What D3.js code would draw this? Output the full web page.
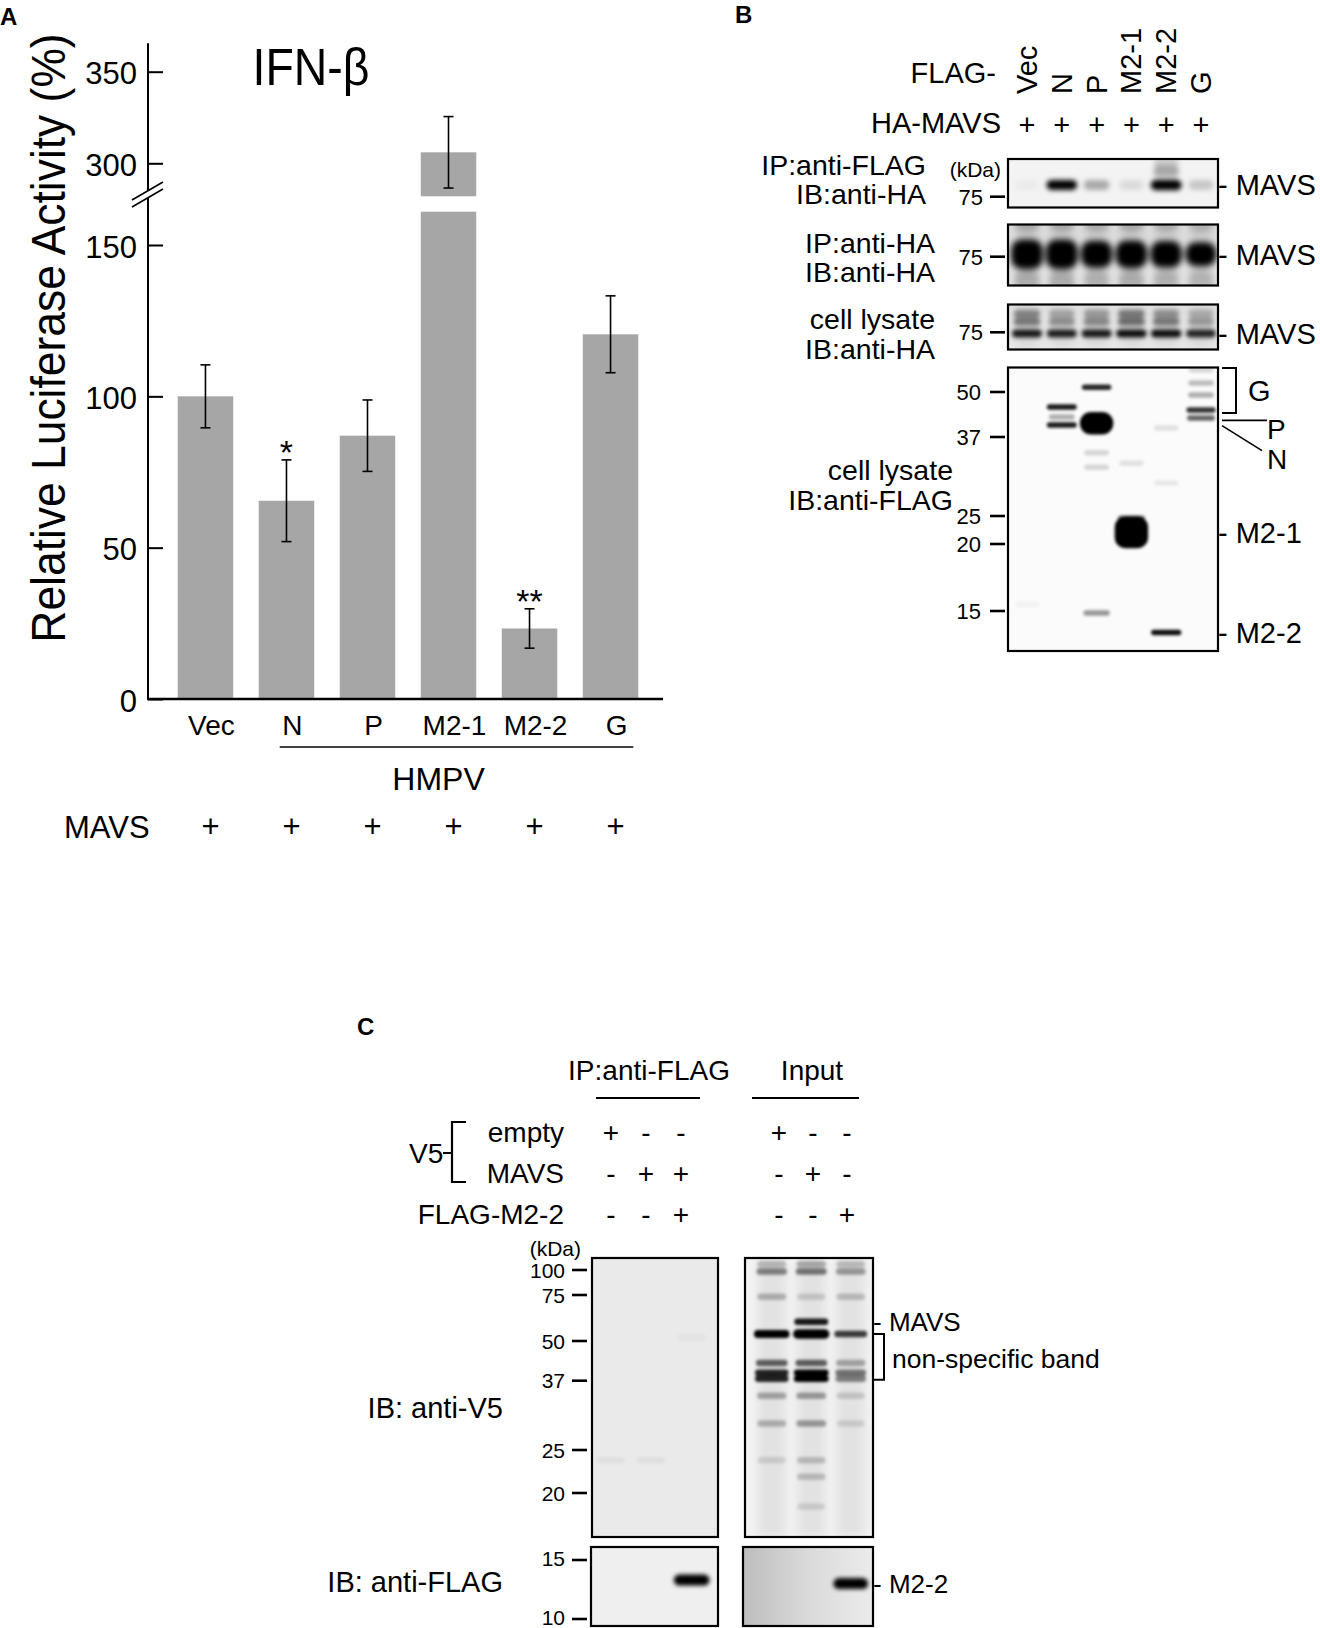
<!DOCTYPE html>
<html><head><meta charset="utf-8">
<script src="https://cdn.jsdelivr.net/npm/d3@7"></script>
<style>
body{margin:0;background:#fff}
svg text{font-family:"Liberation Sans",Arial,Helvetica,sans-serif;fill:#000}
</style>
</head><body>
<svg id="fig" width="1320" height="1628"></svg>
<script>
// ================= DATA =================
// Panel A : IFN-beta luciferase
const catsA = ["Vec", "N", "P", "M2-1", "M2-2", "G"];
const meanA = [100, 65.5, 87, 306, 23.3, 120.5];
const errA  = [10.4, 13.5, 11.8, 19.5, 6.5, 12.7];
const sigA  = ["", "*", "", "", "**", ""];
const mavsA = ["+", "+", "+", "+", "+", "+"];
const ticksLowA  = [0, 50, 100, 150];
const ticksHighA = [300, 350];

// Panel B : co-IP of HA-MAVS with FLAG-tagged HMPV proteins
const lanesB = ["Vec", "N", "P", "M2-1", "M2-2", "G"];
const haMavsB = ["+", "+", "+", "+", "+", "+"];
const markersB123 = [75];
const markersB4 = [50, 37, 25, 20, 15];
const bandsB1 = [
  {lane:"Vec", kDa:80, s:0.03}, {lane:"N", kDa:80, s:1.0}, {lane:"P", kDa:80, s:0.3},
  {lane:"M2-1", kDa:80, s:0.1}, {lane:"M2-2", kDa:80, s:1.05},
  {lane:"M2-2", kDa:86, s:0.3}, {lane:"M2-2", kDa:90, s:0.18},
  {lane:"G", kDa:80, s:0.18}
];
const bandsB2 = [
  {lane:"Vec", kDa:92, s:0.22}, {lane:"N", kDa:92, s:0.22}, {lane:"P", kDa:92, s:0.2},
  {lane:"M2-1", kDa:92, s:0.22}, {lane:"M2-2", kDa:92, s:0.2}, {lane:"G", kDa:92, s:0.18},
  {lane:"Vec", kDa:65, s:0.2}, {lane:"N", kDa:65, s:0.2}, {lane:"P", kDa:65, s:0.18},
  {lane:"M2-1", kDa:65, s:0.2}, {lane:"M2-2", kDa:65, s:0.18}, {lane:"G", kDa:65, s:0.16},
  {lane:"Vec", kDa:76, s:1.15}, {lane:"N", kDa:76, s:1.15}, {lane:"P", kDa:76, s:1.08},
  {lane:"M2-1", kDa:76, s:1.1}, {lane:"M2-2", kDa:76, s:1.07}, {lane:"G", kDa:76, s:1.0}
];
const bandsB3 = [
  {lane:"Vec", kDa:79.5, s:0.45}, {lane:"N", kDa:79.5, s:0.35}, {lane:"P", kDa:79.5, s:0.38},
  {lane:"M2-1", kDa:79.5, s:0.5}, {lane:"M2-2", kDa:79.5, s:0.45}, {lane:"G", kDa:79.5, s:0.3},
  {lane:"Vec", kDa:83, s:0.4}, {lane:"N", kDa:83, s:0.25}, {lane:"P", kDa:83, s:0.3},
  {lane:"M2-1", kDa:83, s:0.45}, {lane:"M2-2", kDa:83, s:0.35}, {lane:"G", kDa:83, s:0.22},
  {lane:"Vec", kDa:74.5, s:0.9}, {lane:"N", kDa:74.5, s:0.88}, {lane:"P", kDa:74.5, s:0.9},
  {lane:"M2-1", kDa:74.5, s:0.95}, {lane:"M2-2", kDa:74.5, s:0.95}, {lane:"G", kDa:74.5, s:0.85}
];
const bandsB4 = [
  {lane:"N", kDa:45.7, s:0.9}, {lane:"N", kDa:42.8, s:0.3}, {lane:"N", kDa:40.5, s:0.9},
  {lane:"P", kDa:51.4, s:0.85}, {lane:"P", kDa:41, s:1.6}, {lane:"P", kDa:34.6, s:0.15},
  {lane:"P", kDa:32.4, s:0.15}, {lane:"P", kDa:14.85, s:0.4},
  {lane:"M2-1", kDa:33, s:0.1}, {lane:"M2-1", kDa:24.6, s:0.5}, {lane:"M2-1", kDa:22.1, s:1.8},
  {lane:"M2-2", kDa:39.6, s:0.1}, {lane:"M2-2", kDa:30, s:0.08}, {lane:"M2-2", kDa:13.4, s:0.95},
  {lane:"G", kDa:56.4, s:0.15}, {lane:"G", kDa:52.6, s:0.25}, {lane:"G", kDa:49.1, s:0.3},
  {lane:"G", kDa:44.8, s:0.8}, {lane:"G", kDa:42.5, s:0.6},
  {lane:"Vec", kDa:15.5, s:0.04}
];

// Panel C : V5-MAVS / FLAG-M2-2 co-IP
const lanesC = ["1", "2", "3"];
const rowsC = ["empty", "MAVS", "FLAG-M2-2"];
const signsIP    = [["+","-","-"], ["-","+","+"], ["-","-","+"]];
const signsInput = [["+","-","-"], ["-","+","-"], ["-","-","+"]];
const markersCV5 = [100, 75, 50, 37, 25, 20];
const markersCF  = [15, 10];
const bandsCV5ip = [
  {lane:"1", kDa:23.8, s:0.05}, {lane:"2", kDa:23.8, s:0.05}, {lane:"3", kDa:52, s:0.03}
];
const bandsCV5in = [
  {lane:"1", kDa:105.8, s:0.22}, {lane:"1", kDa:98.4, s:0.45}, {lane:"1", kDa:74.1, s:0.25},
  {lane:"1", kDa:53.8, s:1.1}, {lane:"1", kDa:42.8, s:0.6}, {lane:"1", kDa:39.6, s:0.85},
  {lane:"1", kDa:37.6, s:0.85}, {lane:"1", kDa:34.4, s:0.3}, {lane:"1", kDa:29.6, s:0.25},
  {lane:"1", kDa:23.8, s:0.12},
  {lane:"2", kDa:105.8, s:0.28}, {lane:"2", kDa:98.4, s:0.5}, {lane:"2", kDa:74.1, s:0.15},
  {lane:"2", kDa:60.5, s:0.9}, {lane:"2", kDa:53.8, s:1.2}, {lane:"2", kDa:42.8, s:0.6},
  {lane:"2", kDa:39.6, s:1.0}, {lane:"2", kDa:37.6, s:1.0}, {lane:"2", kDa:34.4, s:0.35},
  {lane:"2", kDa:29.6, s:0.35}, {lane:"2", kDa:23.8, s:0.2}, {lane:"2", kDa:21.9, s:0.2},
  {lane:"2", kDa:19, s:0.12},
  {lane:"3", kDa:105.8, s:0.2}, {lane:"3", kDa:98.4, s:0.35}, {lane:"3", kDa:74.1, s:0.2},
  {lane:"3", kDa:53.8, s:0.75}, {lane:"3", kDa:42.8, s:0.3}, {lane:"3", kDa:39.6, s:0.5},
  {lane:"3", kDa:37.6, s:0.45}, {lane:"3", kDa:34.4, s:0.15}, {lane:"3", kDa:29.6, s:0.12}
];
const bandsCFip = [{lane:"3", kDa:13.3, s:1.0}];
const bandsCFin = [{lane:"3", kDa:13.0, s:1.0}];

// ================= DRAWING =================
const svg = d3.select("#fig");
const defs = svg.append("defs");

function txt(g, x, y, s, size, anchor, weight) {
  return g.append("text").attr("x", x).attr("y", y).attr("font-size", size)
    .attr("text-anchor", anchor || "start").attr("font-weight", weight || "normal").text(s);
}
function line(g, x1, y1, x2, y2, w) {
  return g.append("line").attr("x1", x1).attr("y1", y1).attr("x2", x2).attr("y2", y2)
    .attr("stroke", "#000").attr("stroke-width", w || 2);
}

// ---------- Panel A ----------
const gA = svg.append("g");
txt(gA, 0, 25, "A", 24, "start", "bold");
const axX = 148;
const xA = d3.scaleBand().domain(catsA).range([150, 666]).paddingInner(0.315).paddingOuter(0.342);
const yLow = d3.scaleLinear().domain([0, 150]).range([699, 245]);
const yHigh = d3.scaleLinear().domain([300, 350]).range([163.3, 71.7]);
const lowMax = 161, highMin = 282;          // visible limits of the bar segments
const lowAxisTop = 165.5, highAxisBottom = 285, highAxisTop = 365.5;

catsA.forEach((c, i) => {
  const v = meanA[i], e = errA[i], x = xA(c), w = xA.bandwidth();
  if (v <= lowMax) {
    gA.append("rect").attr("x", x).attr("y", yLow(v)).attr("width", w)
      .attr("height", yLow(0) - yLow(v)).attr("fill", "#a6a6a6");
  } else {
    gA.append("rect").attr("x", x).attr("y", yLow(lowMax)).attr("width", w)
      .attr("height", yLow(0) - yLow(lowMax)).attr("fill", "#a6a6a6");
    gA.append("rect").attr("x", x).attr("y", yHigh(v)).attr("width", w)
      .attr("height", yHigh(highMin) - yHigh(v)).attr("fill", "#a6a6a6");
  }
  const ys = v <= lowMax ? yLow : yHigh;
  const cx = x + w / 2;
  line(gA, cx, ys(v - e), cx, ys(v + e), 1.6);
  line(gA, cx - 5, ys(v - e), cx + 5, ys(v - e), 1.6);
  line(gA, cx - 5, ys(v + e), cx + 5, ys(v + e), 1.6);
  if (sigA[i]) txt(gA, cx, ys(v + e) + 4, sigA[i], 34, "middle");
});

function styleAxis(g) {
  g.select(".domain").remove();
  g.selectAll(".tick line").attr("stroke-width", 2);
  g.selectAll(".tick text").attr("font-size", 31).attr("dy", "0.39em")
    .style("font-family", '"Liberation Sans", Arial, sans-serif');
}
gA.append("g").attr("transform", `translate(${axX},0)`)
  .call(d3.axisLeft(yLow).tickValues(ticksLowA).tickSizeInner(-15).tickSizeOuter(0).tickPadding(11))
  .call(styleAxis);
gA.append("g").attr("transform", `translate(${axX},0)`)
  .call(d3.axisLeft(yHigh).tickValues(ticksHighA).tickSizeInner(-15).tickSizeOuter(0).tickPadding(11))
  .call(styleAxis);
line(gA, axX, yLow(0) + 1, axX, yLow(lowAxisTop), 2);
line(gA, axX, yHigh(highAxisBottom), axX, yHigh(highAxisTop), 2);
const brkMid = (yLow(lowAxisTop) + yHigh(highAxisBottom)) / 2;
[-3.5, 3.5].forEach(d => line(gA, axX - 16, brkMid + 9 + d, axX + 15, brkMid - 9 + d, 1.6));
line(gA, axX - 1, yLow(0), 663, yLow(0), 2.6);

gA.append("text").attr("transform", `translate(65,338) rotate(-90) scale(0.925,1)`)
  .attr("font-size", 48).attr("text-anchor", "middle").text("Relative Luciferase Activity (%)");
gA.append("text").attr("transform", `translate(311,85) scale(0.91,1)`)
  .attr("font-size", 51).attr("text-anchor", "middle").text("IFN-β");

catsA.forEach(c => txt(gA, xA(c) + xA.bandwidth() / 2 + 6, 735, c, 28, "middle"));
const hx1 = xA("N") + 21, hx2 = xA("G") + xA.bandwidth() - 5;
line(gA, hx1, 747, hx2, 747, 1.6);
txt(gA, (hx1 + hx2) / 2 - 18, 790, "HMPV", 32, "middle");
txt(gA, 64, 838, "MAVS", 31, "start");
catsA.forEach((c, i) => txt(gA, xA(c) + xA.bandwidth() / 2 + 5, 837, mavsA[i], 31, "middle"));

// ---------- blot helper ----------
let blotId = 0;
function drawBlot(g, box, bands, lane, y, o) {
  const id = "b" + (blotId++);
  defs.append("clipPath").attr("id", "c" + id).append("rect")
    .attr("x", box[0]).attr("y", box[1]).attr("width", box[2] - box[0]).attr("height", box[3] - box[1]);
  const f = defs.append("filter").attr("id", "f" + id).attr("filterUnits", "userSpaceOnUse")
    .attr("x", 0).attr("y", 0).attr("width", 1320).attr("height", 1628);
  f.append("feGaussianBlur").attr("stdDeviation", o.blur);
  let bg = o.bg;
  if (Array.isArray(o.bg)) {
    const gr = defs.append("linearGradient").attr("id", "g" + id)
      .attr("x1", 0).attr("y1", 0).attr("x2", o.horiz ? 1 : 0).attr("y2", o.horiz ? 0 : 1);
    o.bg.forEach((c, k) => gr.append("stop").attr("offset", k / (o.bg.length - 1)).attr("stop-color", c));
    bg = `url(#g${id})`;
  }
  const outer = g.append("g").attr("clip-path", `url(#c${id})`);
  outer.append("rect").attr("x", box[0]).attr("y", box[1]).attr("width", box[2] - box[0])
    .attr("height", box[3] - box[1]).attr("fill", bg);
  const bw = lane.bandwidth();
  if (o.smear) {   // faint vertical lane smear
    const fs = defs.append("filter").attr("id", "s" + id).attr("filterUnits", "userSpaceOnUse")
      .attr("x", 0).attr("y", 0).attr("width", 1320).attr("height", 1628);
    fs.append("feGaussianBlur").attr("stdDeviation", 5);
    const sg = outer.append("g").attr("filter", `url(#s${id})`);
    lane.domain().forEach(l => sg.append("rect").attr("x", lane(l) + 2).attr("y", box[1])
      .attr("width", bw - 4).attr("height", box[3] - box[1]).attr("fill", "#000").attr("fill-opacity", o.smear));
  }
  const inner = outer.append("g").attr("filter", `url(#f${id})`);
  bands.forEach(b => {
    const w = bw * Math.min(1.2, 0.85 + 0.25 * b.s);
    const h = o.base * Math.pow(Math.max(1, b.s), o.grow);
    inner.append("rect").attr("x", lane(b.lane) + bw / 2 - w / 2).attr("y", y(b.kDa) - h / 2)
      .attr("width", w).attr("height", h).attr("rx", Math.min(h / 2, w / 3))
      .attr("fill", "#000").attr("fill-opacity", Math.min(1, b.s));
  });
  g.append("rect").attr("x", box[0]).attr("y", box[1]).attr("width", box[2] - box[0])
    .attr("height", box[3] - box[1]).attr("fill", "none").attr("stroke", "#000").attr("stroke-width", 2.2);
}
function markerTicks(g, markers, y, labelX, t1, t2, size, dy) {
  markers.forEach(m => {
    line(g, t1, y(m), t2, y(m), 2.6);
    txt(g, labelX, y(m) + dy * size, String(m), size, "end");
  });
}

// ---------- Panel B ----------
const gB = svg.append("g");
txt(gB, 735, 23, "B", 24, "start", "bold");
const xB = d3.scaleBand().domain(lanesB).range([1009.6, 1218.4]).paddingInner(0.2).paddingOuter(0.1);
const lcB = l => xB(l) + xB.bandwidth() / 2;
txt(gB, 996, 83, "FLAG-", 29, "end");
lanesB.forEach(l => gB.append("text").attr("transform", `translate(${lcB(l) + 10},94) rotate(-90)`)
  .attr("font-size", 29).text(l));
txt(gB, 1001, 133, "HA-MAVS", 29, "end");
lanesB.forEach((l, i) => txt(gB, lcB(l), 135, haMavsB[i], 29, "middle"));

const kdaScale = tickY => k => tickY - 420 * Math.log10(k / 75);
const yB1 = kdaScale(196.7), yB2 = kdaScale(256.7), yB3 = kdaScale(332.3);
const yB4 = d3.scaleLinear().domain(markersB4).range([392, 437, 516, 544, 611]);

drawBlot(gB, [1008, 159, 1218, 207.5], bandsB1, xB, yB1, {bg: "#f3f3f3", blur: 2.4, base: 10, grow: 1});
drawBlot(gB, [1008, 224.5, 1218, 285.5], bandsB2, xB, yB2, {bg: ["#dddddd", "#e6e6e6"], blur: 3.2, base: 24, grow: 1.5, smear: 0.08});
drawBlot(gB, [1008, 304.5, 1218, 349.5], bandsB3, xB, yB3, {bg: ["#e2e2e2", "#eaeaea"], blur: 2.2, base: 8, grow: 1, smear: 0.06});
drawBlot(gB, [1008, 367.5, 1218, 651], bandsB4, xB, yB4, {bg: "#fbfbfb", blur: 1.8, base: 5.5, grow: 3});

txt(gB, 1001, 177, "(kDa)", 21, "end");
markerTicks(gB, markersB123, yB1, 983, 990, 1005, 22, 0.36);
markerTicks(gB, markersB123, yB2, 983, 990, 1005, 22, 0.36);
markerTicks(gB, markersB123, yB3, 983, 990, 1005, 22, 0.36);
markerTicks(gB, markersB4, yB4, 981, 990, 1005, 22, 0.36);

txt(gB, 926, 175, "IP:anti-FLAG", 28.5, "end");
txt(gB, 926, 204, "IB:anti-HA", 28.5, "end");
txt(gB, 935, 253, "IP:anti-HA", 28.5, "end");
txt(gB, 935, 282, "IB:anti-HA", 28.5, "end");
txt(gB, 935, 328.5, "cell lysate", 28.5, "end");
txt(gB, 935, 358.5, "IB:anti-HA", 28.5, "end");
txt(gB, 953, 480, "cell lysate", 28.5, "end");
txt(gB, 953, 510, "IB:anti-FLAG", 28.5, "end");

txt(gB, 1218, yB1(80) + 10.5, "- MAVS", 29, "start");
txt(gB, 1218, yB2(76) + 10.5, "- MAVS", 29, "start");
txt(gB, 1218, yB3(74.5) + 10.5, "- MAVS", 29, "start");
gB.append("path").attr("d", `M1222,${yB4(56.9)} H1236 V${yB4(43.9)} H1222`)
  .attr("fill", "none").attr("stroke", "#000").attr("stroke-width", 2);
txt(gB, 1248, (yB4(56.9) + yB4(43.9)) / 2 + 10.5, "G", 29, "start");
line(gB, 1222, yB4(41.8), 1267, yB4(41.8), 1.6);
txt(gB, 1267, yB4(41.8) + 19, "P", 28, "start");
line(gB, 1222, yB4(40.3), 1262, yB4(40.3) + 25, 1.6);
txt(gB, 1267, yB4(40.3) + 43, "N", 28, "start");
txt(gB, 1218, yB4(22.1) + 10.5, "- M2-1", 29, "start");
txt(gB, 1218, yB4(13.4) + 10.5, "- M2-2", 29, "start");

// ---------- Panel C ----------
const gC = svg.append("g");
txt(gC, 357, 1035, "C", 24, "start", "bold");
txt(gC, 649, 1080, "IP:anti-FLAG", 28, "middle");
line(gC, 596, 1098, 700, 1098, 2);
txt(gC, 812, 1080, "Input", 28, "middle");
line(gC, 752, 1098, 859, 1098, 2);
txt(gC, 409, 1163, "V5", 28, "start");
gC.append("path").attr("d", "M466,1122 H452 V1182 H466 M443,1153 H452")
  .attr("fill", "none").attr("stroke", "#000").attr("stroke-width", 2.2);
const rowY = [1142, 1183, 1224];
txt(gC, 564, rowY[0], "empty", 28, "end");
txt(gC, 564, rowY[1], "MAVS", 28, "end");
txt(gC, 564, rowY[2], "FLAG-M2-2", 28, "end");
const sIP = d3.scalePoint().domain(lanesC).range([611, 681]);
const sIn = d3.scalePoint().domain(lanesC).range([779, 847]);
rowsC.forEach((r, ri) => lanesC.forEach((l, li) => {
  txt(gC, sIP(l), rowY[ri], signsIP[ri][li], 28, "middle");
  txt(gC, sIn(l), rowY[ri], signsInput[ri][li], 28, "middle");
}));

const yC = d3.scaleLinear().domain([100, 75, 50, 37, 25, 20, 15, 10])
  .range([1270, 1295, 1341, 1380.7, 1450, 1493, 1560, 1619]);
const xCip = d3.scaleBand().domain(lanesC).range([590, 712]).paddingInner(0.2).paddingOuter(0.1);
const xCin = d3.scaleBand().domain(lanesC).range([752, 870.5]).paddingInner(0.2).paddingOuter(0.1);

drawBlot(gC, [592, 1258, 718, 1537], bandsCV5ip, xCip, yC, {bg: "#eaeaea", blur: 1.5, base: 6, grow: 2});
drawBlot(gC, [745, 1258, 873, 1537], bandsCV5in, xCin, yC, {bg: "#f3f3f3", blur: 1.8, base: 6.5, grow: 2, smear: 0.07});
drawBlot(gC, [591, 1547, 718, 1626], bandsCFip, xCip, yC, {bg: "#efefef", blur: 2, base: 11, grow: 1});
drawBlot(gC, [743, 1547, 873, 1626], bandsCFin, xCin, yC, {bg: ["#bdbdbd", "#dadada", "#ebebeb"], horiz: true, blur: 2, base: 11, grow: 1});

txt(gC, 581, 1256, "(kDa)", 21, "end");
markerTicks(gC, markersCV5, yC, 565, 572, 587, 21, 0.36);
markerTicks(gC, markersCF, yC, 565, 572, 587, 21, 0.3);

txt(gC, 503, 1418, "IB: anti-V5", 29, "end");
txt(gC, 503, 1592, "IB: anti-FLAG", 29, "end");
txt(gC, 873, yC(60.5) + 9.5, "- MAVS", 26, "start");
gC.append("path").attr("d", `M874,${yC(53.8)} H884 V${yC(37.3)} H874`)
  .attr("fill", "none").attr("stroke", "#000").attr("stroke-width", 2);
txt(gC, 892, 1368, "non-specific band", 26.5, "start");
txt(gC, 873, yC(13.0) + 9.5, "- M2-2", 26, "start");
</script>
</body></html>
